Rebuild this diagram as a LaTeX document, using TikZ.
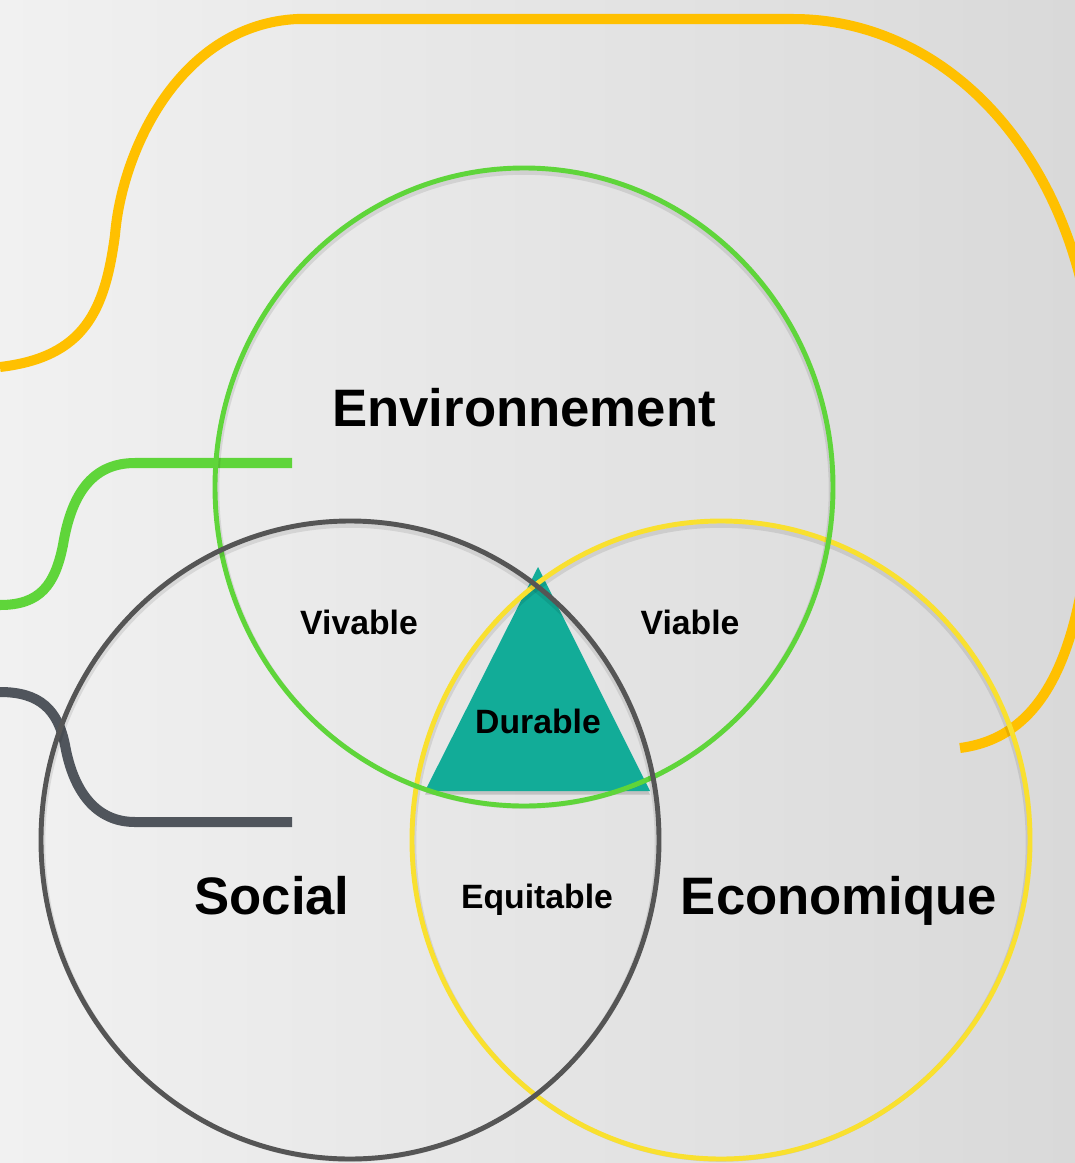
\documentclass[tikz,border=0pt]{standalone}
\usepackage{fontspec}
\setmainfont{Liberation Sans}
\usepackage{tikz}
\usetikzlibrary{positioning}
\definecolor{bgleft}{HTML}{F1F1F1}
\definecolor{bgright}{HTML}{D9D9D9}
\definecolor{envgreen}{HTML}{5FD53A}
\definecolor{socgrey}{HTML}{555555}
\definecolor{ecoyellow}{HTML}{F9E02F}
\definecolor{gold}{HTML}{FFC000}
\definecolor{bandgrey}{HTML}{50555C}
\definecolor{durteal}{HTML}{12AC98}
\tikzset{ring/.style = {line width=2.8pt},
         ringshadow/.style = {line width=2.6pt, draw=black, opacity=.09},
         band/.style = {line width=5.7pt},
         biglabel/.style = {anchor=base, font=\fontsize{30}{36}\selectfont\bfseries},
         smalllabel/.style = {anchor=base, font=\fontsize{19.2}{23}\selectfont\bfseries}}

\begin{document}
\begin{tikzpicture}[x=0.02cm, y=-0.02cm]
        \useasboundingbox (0,0) rectangle (1075,1163);
        \shade[left color=bgleft, right color=bgright] (0,0) rectangle (1075,1163);
        \clip (0,0) rectangle (1075,1163);

        % bands coming in from the left
        \draw[band, draw=gold] (0,367) .. controls (85,357) and (105,310) .. (115,235)
            .. controls (122,150) and (180,25) .. (297,19) -- (793,19)
            .. controls (960,19) and (1095,180) .. (1095,400)
            .. controls (1095,620) and (1060,735) .. (960,748);
        \draw[band, draw=envgreen] (0,605) .. controls (40,605) and (55,585) .. (63,545)
            .. controls (72,490) and (95,463) .. (135,463) -- (292,463);
        \draw[band, draw=bandgrey] (0,692) .. controls (40,692) and (58,710) .. (65,745)
            .. controls (73,790) and (95,822) .. (135,822) -- (292,822);

        % core triangle
        \coordinate (T) at (538,567);
        \coordinate (L) at (425,791);
        \coordinate (R) at (650,791);
        \fill[black, opacity=.15] ([yshift=-2pt]T) -- ([yshift=-2pt]L) -- ([yshift=-2pt]R) -- cycle;
        \fill[durteal] (T) -- (L) -- (R) -- cycle;

        % three circles
        \foreach \cx/\cy/\col in {721/840/ecoyellow, 524/487/envgreen, 350/840/socgrey} {
            \draw[ringshadow] (\cx,\cy+2.5) ellipse [x radius=307, y radius=317];
            \draw[ring, draw=\col] (\cx,\cy) ellipse [x radius=309, y radius=319];
        }

        \node[biglabel] (env) at (524,426) {Environnement};
        \node[biglabel] (soc) at (272,914) {Social};
        \node[biglabel] (eco) at (839,914) {Economique};

        \node[smalllabel] (viv) at (359,634) {Vivable};
        \node[smalllabel] (via) at (690,634) {Viable};
        \node[smalllabel] (dur) at (538,733) {Durable};
        \node[smalllabel] (equ) at (537,908) {Equitable};
    \end{tikzpicture}
\end{document}
